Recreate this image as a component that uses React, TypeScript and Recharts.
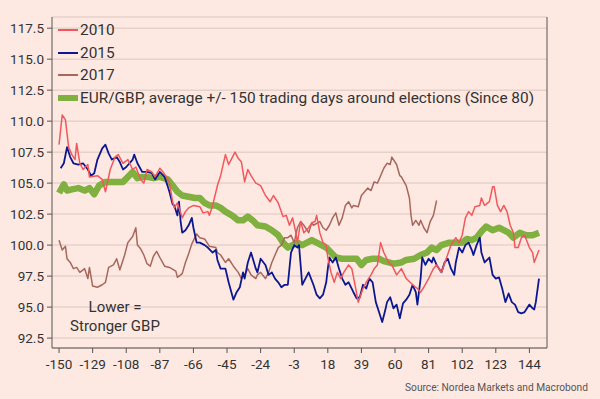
import { LineChart, Line, XAxis, YAxis, CartesianGrid } from 'recharts';

const FONT = 'Roboto, "Noto Sans", sans-serif';

const X_TICKS = [-150, -129, -108, -87, -66, -45, -24, -3, 18, 39, 60, 81, 102, 123, 144];
const Y_TICKS = [92.5, 95, 97.5, 100, 102.5, 105, 107.5, 110, 112.5, 115, 117.5];

// [trading day, EUR/GBP index]
const y2010: [number, number][] = [
  [-150, 108.1], [-148, 110.5], [-146, 110.1], [-144, 107.9], [-142, 107.3], [-140, 106.9],
  [-139, 108.2], [-137, 106.6], [-135, 106.1], [-132, 106.5], [-131, 105.5], [-126, 105.6],
  [-123, 105.3], [-121, 104.3], [-118, 106.1], [-115, 107.1], [-113, 107.3], [-110, 106.6],
  [-107, 106.9], [-104, 106.1], [-102, 106.3], [-99, 105.3], [-97, 105.0], [-95, 106.1],
  [-92, 105.9], [-90, 105.5], [-87, 106.2], [-85, 105.9], [-82, 105.3], [-81, 105.0],
  [-79, 103.5], [-78, 103.0], [-76, 103.4], [-73, 102.2], [-71, 102.7], [-69, 103.0],
  [-66, 103.2], [-62, 103.1], [-60, 102.6], [-57, 102.7], [-56, 102.4], [-54, 103.2],
  [-51, 104.8], [-49, 105.6], [-46, 107.3], [-44, 106.5], [-42, 107.0], [-40, 107.5],
  [-38, 107.0], [-36, 106.7], [-34, 105.1], [-32, 106.1], [-30, 105.6], [-27, 105.0],
  [-24, 104.8], [-21, 104.0], [-18, 103.5], [-16, 104.0], [-13, 103.4], [-10, 102.3],
  [-8, 102.4], [-6, 101.6], [-4, 102.2], [-2, 101.0], [-1, 100.2], [1, 101.9],
  [3, 101.0], [6, 101.4], [8, 101.8], [10, 101.9], [11, 102.4], [13, 101.0],
  [15, 100.2], [17, 100.0], [18, 99.0], [20, 97.8], [22, 97.0], [24, 97.8],
  [26, 97.3], [28, 97.8], [31, 98.4], [33, 98.1], [35, 96.8], [37, 95.4],
  [40, 96.5], [42, 97.0], [45, 97.6], [47, 98.1], [49, 98.4], [51, 100.2],
  [53, 99.4], [56, 98.6], [58, 98.4], [61, 97.6], [64, 98.1], [67, 97.3],
  [71, 96.8], [74, 96.5], [76, 96.2], [78, 96.6], [81, 97.3], [84, 98.1],
  [86, 98.4], [89, 97.8], [92, 98.9], [95, 100.0], [98, 100.6], [100, 100.2],
  [102, 100.8], [104, 102.2], [106, 102.7], [108, 102.4], [110, 103.1], [113, 103.2],
  [114, 103.8], [116, 103.2], [119, 103.5], [121, 104.7], [122, 104.7], [124, 103.2],
  [126, 102.7], [128, 103.2], [130, 102.7], [132, 101.6], [134, 101.0], [135, 99.8],
  [137, 99.8], [139, 100.6], [141, 100.8], [144, 99.8], [146, 99.4], [147, 98.6],
  [150, 99.6],
];

const y2015: [number, number][] = [
  [-149, 106.2], [-147, 106.6], [-145, 107.9], [-143, 107.1], [-141, 106.6], [-138, 106.5],
  [-135, 106.6], [-132, 106.1], [-130, 105.6], [-128, 105.8], [-126, 106.9], [-123, 107.8],
  [-121, 108.1], [-119, 107.4], [-117, 106.9], [-114, 107.1], [-112, 106.7], [-110, 106.1],
  [-108, 106.3], [-104, 106.9], [-103, 107.3], [-101, 106.6], [-98, 105.9], [-95, 105.9],
  [-92, 105.8], [-90, 105.3], [-87, 105.9], [-84, 105.5], [-82, 104.7], [-81, 104.3],
  [-79, 103.3], [-78, 103.2], [-76, 102.4], [-75, 103.5], [-74, 101.9], [-73, 101.0],
  [-71, 101.2], [-69, 101.6], [-67, 102.2], [-66, 101.4], [-64, 100.2], [-62, 100.2],
  [-59, 100.0], [-57, 99.8], [-54, 99.4], [-52, 99.6], [-51, 98.8], [-49, 98.1],
  [-46, 98.1], [-44, 97.0], [-41, 95.6], [-39, 96.2], [-37, 96.6], [-35, 97.8],
  [-34, 97.3], [-32, 98.6], [-30, 99.4], [-27, 98.1], [-26, 97.8], [-24, 98.9],
  [-21, 98.4], [-19, 97.6], [-17, 97.8], [-15, 97.3], [-13, 97.0], [-11, 96.6],
  [-9, 96.8], [-7, 96.8], [-5, 99.4], [-3, 100.0], [-1, 99.8], [0, 100.0],
  [2, 96.8], [4, 97.3], [6, 97.8], [9, 96.8], [11, 96.0], [13, 95.7],
  [15, 96.0], [17, 97.0], [18, 98.1], [19, 99.0], [21, 98.6], [23, 99.0],
  [25, 98.1], [27, 97.3], [29, 96.8], [31, 97.0], [34, 96.2], [36, 95.7],
  [38, 95.8], [40, 96.8], [42, 96.5], [44, 97.3], [46, 97.0], [48, 95.4],
  [50, 94.6], [52, 93.8], [54, 94.8], [55, 95.4], [57, 95.8], [59, 94.9],
  [61, 95.2], [63, 94.1], [65, 95.3], [67, 95.6], [69, 96.0], [71, 96.8],
  [73, 96.2], [74, 95.2], [76, 97.3], [77, 99.0], [79, 98.4], [81, 98.9],
  [83, 98.6], [84, 99.0], [86, 98.4], [89, 97.8], [91, 98.6], [93, 98.9],
  [95, 98.1], [97, 97.6], [98, 98.6], [100, 99.8], [102, 99.4], [104, 100.0],
  [106, 100.2], [108, 99.6], [109, 99.2], [111, 100.0], [113, 100.6], [114, 99.4],
  [116, 98.6], [119, 99.0], [121, 97.6], [123, 97.3], [125, 97.4], [127, 96.5],
  [129, 95.4], [131, 96.1], [133, 95.4], [135, 95.2], [137, 94.6], [139, 94.5],
  [141, 94.6], [144, 95.2], [146, 94.9], [147, 94.8], [148, 95.4], [150, 97.3],
];

const y2017: [number, number][] = [
  [-150, 100.4], [-148, 99.6], [-146, 99.9], [-145, 98.9], [-143, 98.6], [-141, 98.1],
  [-139, 98.2], [-137, 97.8], [-134, 98.1], [-132, 97.3], [-131, 98.2], [-129, 96.7],
  [-126, 96.6], [-123, 96.8], [-121, 97.0], [-119, 98.2], [-116, 98.4], [-114, 98.9],
  [-112, 98.0], [-109, 99.2], [-107, 100.2], [-104, 100.7], [-102, 101.4], [-101, 100.0],
  [-99, 99.7], [-97, 99.2], [-95, 98.5], [-93, 98.3], [-91, 99.1], [-89, 99.5],
  [-87, 99.0], [-84, 98.3], [-81, 98.2], [-77, 97.9], [-76, 97.4], [-73, 97.7],
  [-71, 98.6], [-69, 99.3], [-67, 100.1], [-64, 100.9], [-62, 100.6], [-59, 100.5],
  [-56, 99.9], [-52, 99.8], [-51, 99.4], [-49, 99.2], [-46, 98.6], [-44, 98.9],
  [-41, 98.3], [-38, 97.8], [-36, 97.3], [-34, 97.6], [-32, 98.1], [-30, 97.6],
  [-27, 97.3], [-26, 97.6], [-24, 97.8], [-21, 97.3], [-19, 97.8], [-17, 98.6],
  [-15, 99.2], [-13, 99.8], [-11, 100.0], [-9, 100.6], [-7, 100.6], [-5, 100.8],
  [-3, 100.2], [-1, 101.4], [1, 101.9], [3, 101.6], [6, 101.0], [8, 101.8],
  [9, 101.6], [13, 101.9], [15, 101.4], [17, 101.2], [19, 101.6], [21, 102.2],
  [23, 102.6], [25, 101.6], [27, 102.2], [29, 103.2], [31, 103.5], [33, 103.0],
  [34, 103.2], [37, 103.1], [39, 104.0], [41, 104.3], [43, 104.6], [45, 104.4],
  [47, 105.1], [49, 105.0], [51, 105.6], [53, 106.2], [55, 106.6], [57, 106.5],
  [58, 107.1], [61, 106.5], [63, 105.6], [64, 105.5], [67, 104.8], [69, 103.8],
  [70, 102.4], [71, 101.6], [73, 102.0], [75, 101.6], [76, 102.0], [78, 101.4],
  [80, 101.0], [82, 101.9], [84, 102.4], [86, 103.6],
];

const yAvg: [number, number][] = [
  [-150, 104.2], [-147, 104.9], [-145, 104.4], [-142, 104.5], [-138, 104.6], [-134, 104.4],
  [-131, 104.6], [-128, 104.1], [-125, 104.8], [-121, 105.1], [-117, 105.1], [-114, 105.1],
  [-110, 105.1], [-107, 105.5], [-104, 105.9], [-101, 105.4], [-98, 105.5], [-95, 105.5],
  [-91, 105.4], [-87, 105.5], [-82, 105.3], [-79, 104.8], [-76, 104.3], [-73, 104.0],
  [-69, 103.9], [-65, 103.8], [-62, 103.8], [-59, 103.4], [-56, 103.2], [-52, 103.2],
  [-49, 103.0], [-46, 102.7], [-42, 102.4], [-38, 102.0], [-35, 102.0], [-32, 102.3],
  [-29, 102.0], [-26, 101.6], [-21, 101.5], [-17, 101.2], [-13, 100.8], [-10, 100.2],
  [-7, 99.8], [-4, 100.0], [-1, 100.2], [2, 100.0], [5, 100.2], [8, 100.4],
  [11, 100.2], [14, 100.0], [17, 99.8], [20, 99.4], [23, 99.0], [27, 98.9],
  [31, 98.9], [36, 98.9], [39, 98.4], [42, 98.8], [46, 98.9], [50, 98.9],
  [53, 98.7], [56, 98.6], [59, 98.5], [64, 98.6], [67, 98.8], [72, 98.9],
  [76, 99.2], [80, 99.4], [83, 99.8], [86, 99.6], [89, 100.0], [94, 100.2],
  [98, 100.2], [102, 100.2], [105, 100.5], [108, 100.4], [111, 100.6], [114, 101.1],
  [117, 101.5], [121, 101.2], [125, 101.4], [128, 101.2], [131, 101.0], [134, 100.6],
  [138, 101.0], [142, 100.8], [146, 100.8], [150, 101.0],
];

const toRows = (pts: [number, number][]) => pts.map(([d, v]) => ({ d, v }));

const SERIES = [
  { key: 'avg', label: 'EUR/GBP, average +/- 150 trading days around elections (Since 80)', data: yAvg, color: '#7fb040', width: 6.5 },
  { key: '2017', label: '2017', data: y2017, color: '#a6685c', width: 1.5 },
  { key: '2015', label: '2015', data: y2015, color: '#0c1890', width: 1.8 },
  { key: '2010', label: '2010', data: y2010, color: '#f2575c', width: 1.5 },
];

const LEGEND_ORDER = ['2010', '2015', '2017', 'avg'];

const LegendBox = () => (
  <div style={{ position: 'absolute', left: 58, top: 19, fontSize: 15.4, color: '#333' }}>
    {LEGEND_ORDER.map((k) => {
      const s = SERIES.find((x) => x.key === k)!;
      return (
        <div key={k} style={{ display: 'flex', alignItems: 'center', height: 22.5, whiteSpace: 'nowrap' }}>
          <span
            style={{
              display: 'inline-block',
              width: 20,
              height: k === 'avg' ? 6 : 2,
              background: s.color,
              marginRight: 2,
            }}
          />
          <span>{s.label}</span>
        </div>
      );
    })}
  </div>
);

const App = () => {
  return (
    <div
      style={{
        position: 'absolute',
        left: 0,
        top: 0,
        width: 600,
        height: 399,
        background: '#fde9e1',
        fontFamily: FONT,
      }}
    >
      <LineChart width={600} height={399} margin={{ top: 17, right: 0, bottom: 30, left: 0 }}>
        <CartesianGrid yAxisId="left" stroke="#e6d2ca" strokeWidth={1.5} vertical={false} />
        <XAxis
          dataKey="d"
          type="number"
          domain={[-154.4, 155]}
          ticks={X_TICKS}
          interval={0}
          height={21}
          tickSize={5}
          tickMargin={6}
          stroke="#555"
          tick={{ fill: '#333', fontSize: 13.5 }}
          allowDuplicatedCategory={false}
        />
        <YAxis
          yAxisId="left"
          type="number"
          domain={[91.7, 118.4]}
          ticks={Y_TICKS}
          interval={0}
          width={52}
          tickSize={5}
          tickMargin={3}
          stroke="#555"
          tick={{ fill: '#333', fontSize: 13.5 }}
          tickFormatter={(v: number) => v.toFixed(1)}
        />
        <YAxis
          yAxisId="right"
          orientation="right"
          type="number"
          domain={[91.7, 118.4]}
          ticks={Y_TICKS}
          interval={0}
          width={53}
          tickSize={6}
          tickMargin={8}
          stroke="#555"
          tick={{ fill: '#333', fontSize: 13.5 }}
          tickFormatter={(v: number) => v.toFixed(1)}
        />
        {SERIES.map((s) => (
          <Line
            key={s.key}
            yAxisId="left"
            data={toRows(s.data)}
            dataKey="v"
            type="linear"
            stroke={s.color}
            strokeWidth={s.width}
            strokeLinejoin="round"
            dot={false}
            isAnimationActive={false}
          />
        ))}
      </LineChart>
      <LegendBox />
      <div
        style={{
          position: 'absolute',
          left: 60,
          top: 298,
          width: 110,
          textAlign: 'center',
          fontSize: 15,
          lineHeight: '19px',
          color: '#333',
        }}
      >
        Lower =
        <br />
        Stronger GBP
      </div>
      <div
        style={{
          position: 'absolute',
          right: 12,
          top: 382,
          fontSize: 10.2,
          color: '#555',
        }}
      >
        Source: Nordea Markets and Macrobond
      </div>
    </div>
  );
};

export default App;
